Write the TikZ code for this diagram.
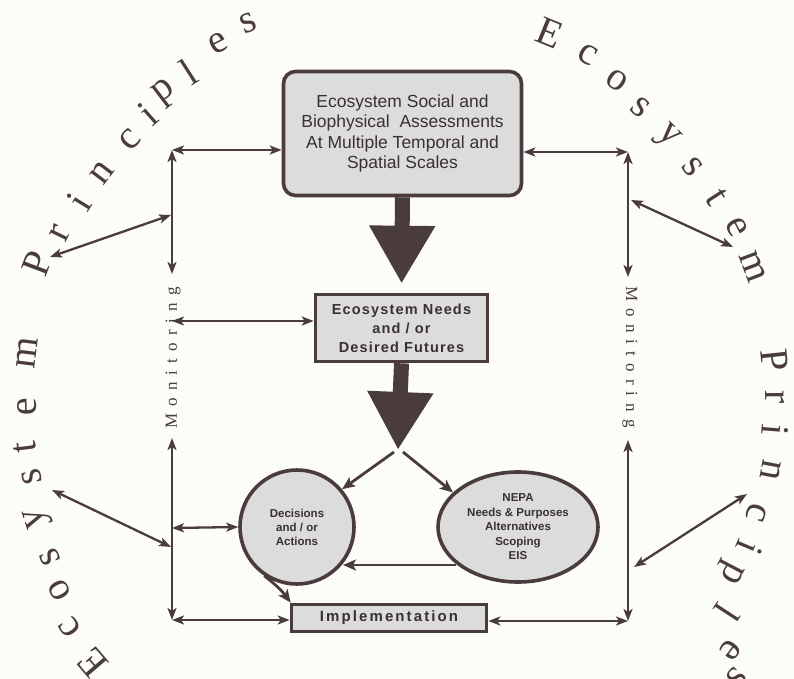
\documentclass[tikz,border=0pt]{standalone}
\usepackage{fontspec}
\setmainfont{Liberation Serif}
\newfontfamily\sansf{Liberation Sans}
\newfontfamily\sansb[LetterSpace=8]{Liberation Sans}
\newfontfamily\implf[LetterSpace=14]{Liberation Sans}
\newfontfamily\monf[LetterSpace=42]{Liberation Serif}
\usetikzlibrary{arrows.meta,calc,shapes.geometric}
\definecolor{ink}{HTML}{4A3C3C}
\definecolor{boxfill}{HTML}{DCDCDC}
\definecolor{paper}{HTML}{FDFDF8}
\newcommand\arcl[4]{%
  \pgfmathsetmacro\arcang{atan2(400-(#3),(#2)-400)-90}%
  \node[arcletter,rotate=\arcang] (#1) at (#2,#3) {#4};}
\begin{document}
\begin{tikzpicture}[x=1pt,y=-1pt,
  box/.style={draw=ink,line width=3.6pt,fill=boxfill,align=center,inner sep=0pt,text=ink!80!black},
  conn/.style={draw=ink,line width=2.3pt,{Stealth[length=12pt,width=9pt,inset=3pt]}-{Stealth[length=12pt,width=9pt,inset=3pt]}},
  arr/.style={draw=ink,line width=2.8pt,-{Stealth[length=13pt,width=11pt,inset=3pt]}},
  big/.style={draw=ink,line width=15pt,-{Triangle[length=58pt,width=62pt]}},
  arcletter/.style={font=\fontsize{40}{40}\selectfont,text=ink,inner sep=0pt},
  monitor/.style={font=\monf\fontsize{17}{17}\selectfont,text=ink,inner sep=0pt}]
\useasboundingbox (0,0) rectangle (794,679);
\fill[paper] (0,0) rectangle (794,679);

% boxes
\node[box,rounded corners=12pt,minimum width=238pt,minimum height=124pt,
  font=\sansf\fontsize{17.5}{20.5}\selectfont] (top) at (402.5,133.5)
  {Ecosystem Social and\\Biophysical\ \ Assessments\\At Multiple Temporal and\\Spatial Scales};
\node[box,minimum width=172pt,minimum height=67pt,
  font=\sansb\bfseries\fontsize{14.5}{19}\selectfont] (needs) at (401.5,328)
  {Ecosystem Needs\\and / or\\Desired Futures};
\node[box,circle,minimum size=114pt,
  font=\sansf\bfseries\fontsize{11.5}{14}\selectfont] (dec) at (297,527)
  {Decisions\\and / or\\Actions};
\node[box,ellipse,minimum width=160pt,minimum height=110pt,
  font=\sansf\bfseries\fontsize{11.5}{14.5}\selectfont] (nepa) at (518,527)
  {NEPA\\Needs \& Purposes\\Alternatives\\Scoping\\EIS};
\node[box,minimum width=195pt,minimum height=27pt,
  font=\implf\bfseries\fontsize{15}{15}\selectfont] (impl) at (389,618)
  {Implementation};

% big arrows
\coordinate (split) at (398,450);
\draw[big,shorten >=9pt] (top.south) -- (needs.north);
\draw[big] (needs.south) -- (split);

% split arrows
\coordinate (sl) at (394,452);
\coordinate (sr) at (403,452);
\draw[arr] (sl) -- (dec.40);
\draw[arr] (sr) -- (nepa.152);
\draw[arr] ($(nepa.center)+(-62,38)$) -- ($(dec.center)+(46,38)$);
\draw[arr,shorten <=-1pt] (dec.237) to[bend left=8] ($(impl.north west)+(1,0)$);

% left monitoring frame
\coordinate (cTL) at (172,150);
\coordinate (cML) at (172,274);
\coordinate (cLU) at (172,438);
\coordinate (cBL) at (172,620);
\coordinate (jL1) at (171,215);
\coordinate (pL1) at (50,257);
\coordinate (jL2) at (171,547);
\coordinate (pL2) at (52,490);
\coordinate (hL2) at (172,321);
\coordinate (hL3) at (172,528);
\draw[conn] (cTL) -- (cTL -| top.west);
\draw[conn] (cTL) -- (cML);
\draw[conn] (cLU) -- (cBL);
\draw[conn] (cBL) -- (cBL -| impl.west);
\draw[conn] (hL2) -- (hL2 -| needs.west);
\draw[conn] (hL3) -- (dec.west);
\draw[conn] (jL1) -- (pL1);
\draw[conn] (jL2) -- (pL2);
\node[monitor,rotate=90] (monL) at (173,358) {Monitoring};

% right monitoring frame
\coordinate (cTR) at (628,152);
\coordinate (cMR) at (628,277);
\coordinate (cRU) at (628,440);
\coordinate (cBR) at (628,621);
\coordinate (jR1) at (631,200);
\coordinate (pR1) at (733,247);
\coordinate (jR2) at (634,567);
\coordinate (pR2) at (747,494);
\draw[conn] (cTR -| top.east) -- (cTR);
\draw[conn] (cTR) -- (cMR);
\draw[conn] (cRU) -- (cBR);
\draw[conn] (cBR -| impl.east) -- (cBR);
\draw[conn] (jR1) -- (pR1);
\draw[conn] (jR2) -- (pR2);
\node[monitor,rotate=-90] (monR) at (630,357) {Monitoring};

% circular text
\arcl{a1}{37}{263}{P}\arcl{a2}{60}{233}{r}\arcl{a3}{79}{202}{i}\arcl{a4}{102}{173}{n}
\arcl{a5}{130}{140}{c}\arcl{a6}{148}{114}{i}\arcl{a7}{165}{93}{p}\arcl{a8}{189}{72}{l}
\arcl{a9}{218}{43}{e}\arcl{a10}{248}{23}{s}
\arcl{b1}{550}{33}{E}\arcl{b2}{588}{55}{c}\arcl{b3}{617}{80}{o}\arcl{b4}{640}{107}{s}
\arcl{b5}{667}{137}{y}\arcl{b6}{693}{167}{s}\arcl{b7}{717}{197}{t}\arcl{b8}{737}{227}{e}
\arcl{b9}{753}{267}{m}
\arcl{c1}{775}{360}{P}\arcl{c2}{775}{397}{r}\arcl{c3}{775}{430}{i}\arcl{c4}{771}{470}{n}
\arcl{c5}{757}{513}{c}\arcl{c6}{750}{548}{i}\arcl{c7}{729}{572}{p}\arcl{c8}{727}{613}{l}
\arcl{c9}{730}{650}{e}\arcl{c10}{737}{677}{s}
\arcl{d1}{93}{663}{E}\arcl{d2}{70}{627}{c}\arcl{d3}{60}{590}{o}\arcl{d4}{50}{557}{s}
\arcl{d5}{38}{517}{y}\arcl{d6}{32}{477}{s}\arcl{d7}{25}{447}{t}\arcl{d8}{27}{407}{e}
\arcl{d9}{27}{353}{m}
\end{tikzpicture}
\end{document}
